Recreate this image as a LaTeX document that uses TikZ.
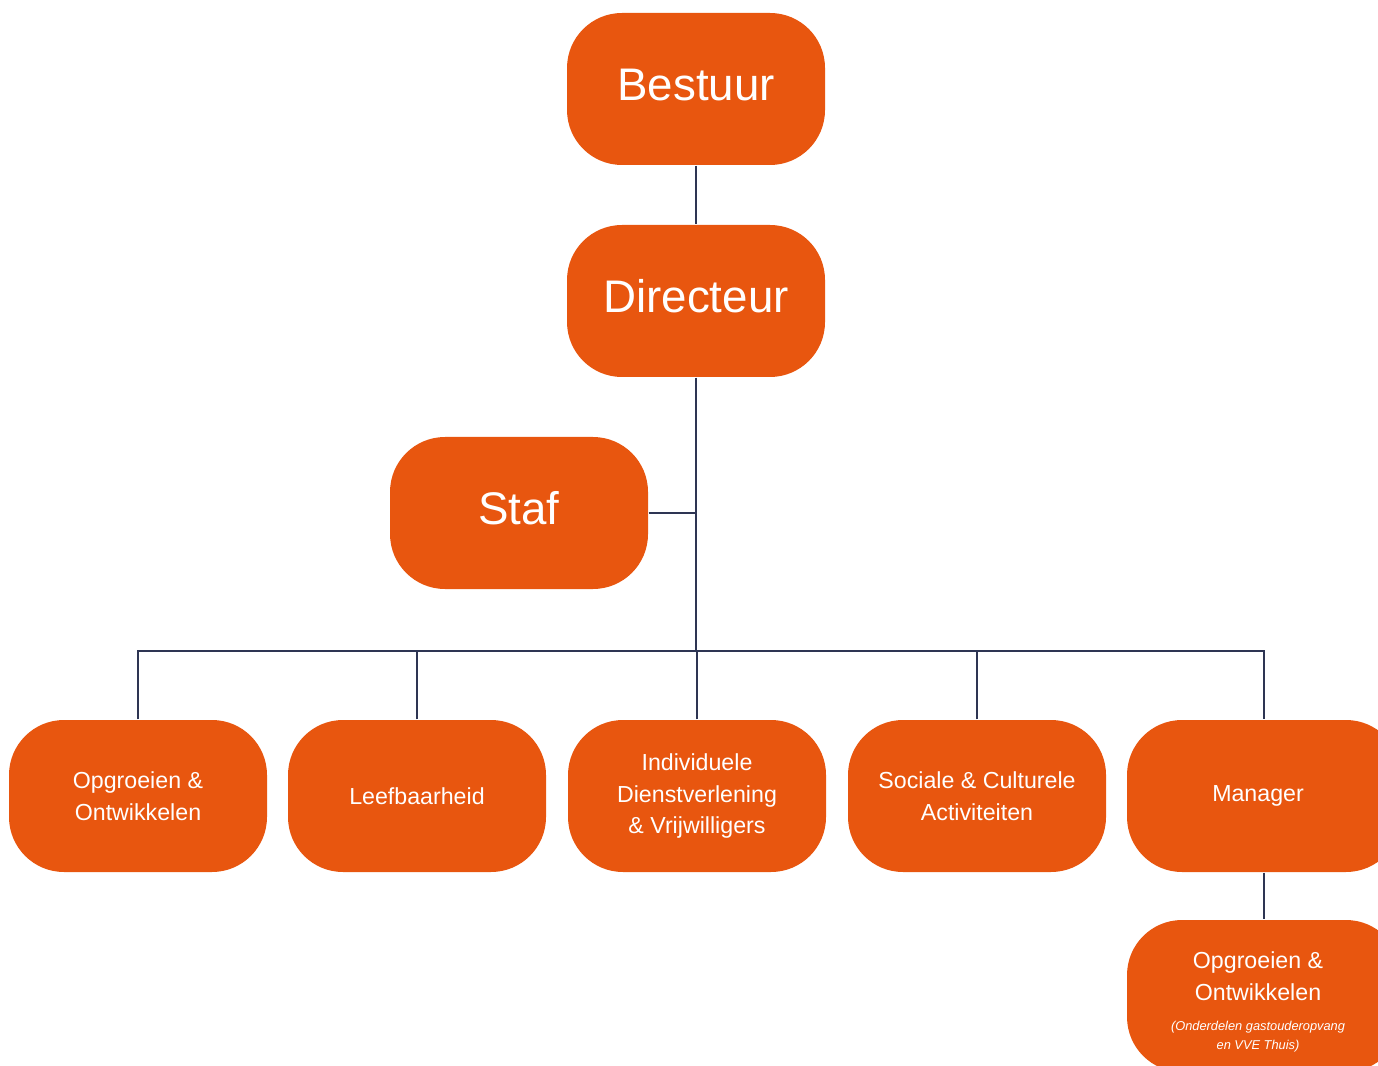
\documentclass[tikz,border=0pt]{standalone}
\usepackage{fontspec}
\setmainfont{Liberation Sans}
\usetikzlibrary{positioning}
\definecolor{oranje}{HTML}{E8560F}
\definecolor{lijn}{HTML}{2E3553}
\tikzset{unit/.style={fill=oranje, text=white, rounded corners=0.55cm, minimum width=2.58cm, minimum height=1.52cm, align=center, inner sep=0pt}}
\tikzset{big/.style={unit, font=\fontsize{13}{16}\selectfont, text height=9.4pt, text depth=2.8pt}}
\tikzset{small/.style={unit, font=\fontsize{6.6}{9.1}\selectfont}}
\tikzset{link/.style={draw=lijn, line width=0.6pt}}

\begin{document}
\begin{tikzpicture}
            \clip (0, 0) rectangle (13.78, -10.66);
            \node[big] (bestuur) at (6.96, -0.89) {Bestuur};
            \node[big] (directeur) at (6.96, -3.01) {Directeur};
            \node[big] (staf) at (5.19, -5.13) {Staf};
            \node[small] (opgroeien) at (1.38, -7.96) {Opgroeien \&\\Ontwikkelen};
            \node[small] (leefbaarheid) at (4.17, -7.96) {Leefbaarheid};
            \node[small] (individueel) at (6.97, -7.96) {Individuele\\Dienstverlening\\\& Vrijwilligers};
            \node[small] (sociaal) at (9.77, -7.96) {Sociale \& Culturele\\Activiteiten};
            \node[small, minimum width=2.74cm] (manager) at (12.64, -7.96) {\hspace*{-0.12cm}Manager};
            \node[small, minimum width=2.74cm] (gastouder) at (12.64, -9.96) {\hspace*{-0.12cm}\begin{tabular}{@{}c@{}}\rule{0pt}{10pt}Opgroeien \&\\Ontwikkelen\\[-0.3pt]
                {\fontsize{3.65}{5.4}\selectfont\itshape (Onderdelen gastouderopvang}\\[-3.8pt]
                {\fontsize{3.65}{5.4}\selectfont\itshape en VVE Thuis)}\end{tabular}};
            \coordinate (bus) at (6.96, -6.51);
            \draw[link] (bestuur) -- (directeur);
            \draw[link] (directeur) -- (bus);
            \draw[link] (staf.east) -- (staf.east -| bus);
            \draw[link] (opgroeien.north) |- (manager.north |- bus) -- (manager.north);
            \foreach \unitname in {leefbaarheid, individueel, sociaal} {
                \draw[link] (\unitname.north) -- (\unitname.north |- bus);
            }
            \draw[link] (manager) -- (gastouder);
        \end{tikzpicture}
\end{document}
